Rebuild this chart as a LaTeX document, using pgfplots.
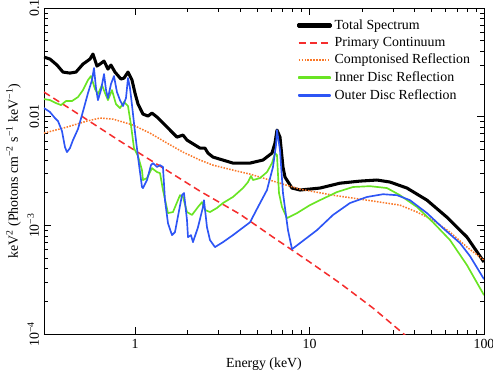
\documentclass[border=0pt]{standalone}
\usepackage{fontspec}
\setmainfont{Liberation Serif}
\usepackage{pgfplots}
\pgfplotsset{compat=1.18}
\usetikzlibrary{calc}

\definecolor{primred}{RGB}{245,45,45}
\definecolor{compor}{RGB}{250,120,40}
\definecolor{innergreen}{RGB}{105,228,35}
\definecolor{outerblue}{RGB}{45,85,245}

\begin{document}
\begin{tikzpicture}
\begin{loglogaxis}[
    name=ax,
    scale only axis,
    width=317pt, height=235pt,
    xmin=0.3, xmax=100,
    ymin=1e-4, ymax=0.1,
    xtick={1,10,100}, xticklabels={1,10,100},
    ytick={1e-4,1e-3,0.01,0.1},
    yticklabels={10\textsuperscript{−4},10\textsuperscript{−3},0.01,0.1},
    yticklabel style={rotate=90, anchor=south},
    xlabel={Energy (keV)},
    ylabel={keV\textsuperscript{2} (Photons cm\textsuperscript{−2} s\textsuperscript{−1} keV\textsuperscript{−1})},
    ylabel style={yshift=-2pt},
    major tick length=5pt, minor tick length=3pt,
    tick style={black, thin},
    legend style={at={(0.985,0.983)}, anchor=north east, draw=none, fill=none,
        nodes={inner sep=2.1pt}},
    legend cell align=left,
    legend image code/.code={\draw[#1] (0cm,0cm) -- (0.8cm,0cm);},
    every axis plot/.append style={line join=round},
]

% total spectrum
\addplot[black, line width=2.2pt,
    legend image code/.code={\fill[black] (0cm,-0.75pt) rectangle (0.8cm,0.75pt);}] coordinates {
(0.300,0.03542) (0.3247,0.03395) (0.3561,0.02990) (0.3855,0.02577) (0.4227,0.02523)
(0.4575,0.02577) (0.5020,0.03053) (0.5506,0.03395) (0.5728,0.03774) (0.6039,0.02927)
(0.6283,0.03053) (0.6627,0.03254) (0.6982,0.02746) (0.7265,0.02990) (0.7658,0.02577)
(0.8290,0.02223) (0.8626,0.02270) (0.9094,0.02577) (0.9587,0.02176) (0.9974,0.01652)
(1.038,0.01309) (1.108,0.01059) (1.184,0.01015) (1.248,0.01081) (1.334,0.00994)
(1.522,0.00804) (1.737,0.00650) (1.880,0.00679) (1.982,0.00610) (2.353,0.00515)
(2.513,0.00515) (2.615,0.00463) (2.793,0.00426) (3.638,0.00375) (4.554,0.00375)
(5.405,0.00400) (6.086,0.00463) (6.333,0.00573) (6.503,0.00755) (6.766,0.00650)
(7.039,0.00345) (7.227,0.00279) (7.930,0.00221) (8.810,0.00212) (11.47,0.00221)
(14.94,0.00245) (19.45,0.00256) (24.35,0.00262) (28.91,0.00251) (36.18,0.00221)
(47.12,0.00171) (61.38,0.00119) (79.91,0.000782) (100,0.000461)
};
\addlegendentry{Total Spectrum}

% primary continuum
\addplot[primred, line width=1.1pt, dash pattern=on 5pt off 3pt] coordinates {
(0.300,0.01687) (0.5020,0.00994) (0.8180,0.00597) (1.388,0.00352) (2.353,0.00207)
(3.990,0.00127) (6.168,0.000782) (9.663,0.000480) (14.94,0.000295) (23.10,0.000174)
(34.32,0.000102) (40.2,0.000081)
};
\addlegendentry{Primary Continuum}

% comptonised reflection
\addplot[compor, line width=1.1pt, densely dotted] coordinates {
(0.300,0.00708) (0.4063,0.00804) (0.5292,0.00913) (0.6283,0.00973) (0.7459,0.00952)
(0.9714,0.00839) (1.216,0.00708) (1.522,0.00573) (1.880,0.00473) (2.353,0.00400)
(2.793,0.00359) (3.638,0.00323) (4.554,0.00297) (6.766,0.00245) (8.810,0.00216)
(13.62,0.00190) (21.34,0.00171) (32.98,0.00154) (41.29,0.00133) (51.02,0.00112)
(63.86,0.000869) (79.91,0.000633) (100,0.000480)
};
\addlegendentry{Comptonised Reflection}

% inner disc reflection
\addplot[innergreen, line width=1.2pt,
    legend image code/.code={\fill[innergreen] (0cm,-0.55pt) rectangle (0.8cm,0.55pt);}] coordinates {
(0.300,0.01455) (0.3247,0.01424) (0.3514,0.01337) (0.3754,0.01281) (0.4010,0.01395)
(0.4341,0.01395) (0.4699,0.01518) (0.5020,0.01760) (0.5363,0.02176) (0.5579,0.02368)
(0.5882,0.01798) (0.6119,0.01617) (0.6451,0.01957) (0.6714,0.01652) (0.6982,0.01424)
(0.7362,0.01760) (0.7759,0.01309) (0.8180,0.01202) (0.8626,0.01366) (0.9094,0.01255)
(0.9461,0.00839) (0.9842,0.00515) (1.038,0.00435) (1.094,0.00323) (1.108,0.00262)
(1.169,0.00273) (1.248,0.00337) (1.334,0.00310) (1.388,0.00303) (1.443,0.00212)
(1.542,0.00130) (1.647,0.00133) (1.807,0.00190) (1.880,0.00183) (1.982,0.00133)
(2.117,0.00125) (2.292,0.00148) (2.416,0.00164) (2.513,0.00139) (2.685,0.00133)
(2.944,0.00145) (3.187,0.00161) (3.638,0.00183) (4.151,0.00221) (4.436,0.00251)
(4.613,0.00285) (4.737,0.00262) (5.195,0.00273) (5.698,0.00310) (6.086,0.00375)
(6.333,0.00463) (6.503,0.00444) (6.677,0.00199) (6.947,0.00148) (7.419,0.00117)
(8.469,0.00130) (10.05,0.00154) (11.47,0.00171) (14.36,0.00203) (17.74,0.00226)
(22.20,0.00230) (27.79,0.00221) (32.98,0.00190) (41.29,0.00148) (51.02,0.00107)
(63.86,0.000734) (79.91,0.000432) (100,0.000229)
};
\addlegendentry{Inner Disc Reflection}

% outer disc reflection
\addplot[outerblue, line width=1.2pt,
    legend image code/.code={\fill[outerblue] (0cm,-0.55pt) rectangle (0.8cm,0.55pt);}] coordinates {
(0.300,0.01202) (0.3247,0.01105) (0.3467,0.00973) (0.3609,0.00913) (0.3804,0.00739)
(0.3958,0.00526) (0.4063,0.00473) (0.4227,0.00515) (0.4398,0.00610) (0.4699,0.00771)
(0.4953,0.01037) (0.5155,0.01309) (0.5363,0.01652) (0.5653,0.02176) (0.5805,0.02805)
(0.5960,0.01836) (0.6119,0.01424) (0.6366,0.01760) (0.6627,0.02471) (0.6805,0.01760)
(0.6982,0.01486) (0.7265,0.01999) (0.7558,0.02368) (0.7862,0.01687) (0.8180,0.01424)
(0.8511,0.01255) (0.8857,0.01486) (0.9094,0.02270) (0.9336,0.01836) (0.9587,0.01281)
(0.9974,0.00723) (1.038,0.00426) (1.094,0.00226) (1.108,0.00221) (1.169,0.00262)
(1.232,0.00359) (1.265,0.00375) (1.334,0.00345) (1.388,0.00359) (1.443,0.00345)
(1.482,0.00171) (1.542,0.00105) (1.626,0.000816) (1.691,0.000869) (1.855,0.00190)
(1.905,0.00199) (1.982,0.00112) (2.008,0.000782) (2.089,0.000816) (2.145,0.000703)
(2.292,0.000966) (2.448,0.00148) (2.480,0.00171) (2.580,0.000966) (2.685,0.000734)
(2.868,0.000633) (3.187,0.000703) (3.638,0.000816) (4.554,0.00107) (5.060,0.00148)
(5.698,0.00212) (6.168,0.00345) (6.418,0.00549) (6.503,0.00755) (6.766,0.00494)
(7.039,0.00199) (7.518,0.000907) (7.930,0.000606) (8.810,0.000689) (11.03,0.000907)
(13.62,0.00125) (17.05,0.00161) (21.34,0.00183) (26.36,0.00194) (31.71,0.00190)
(37.64,0.00171) (47.12,0.00130) (58.22,0.000946) (72.87,0.000689) (83.14,0.000523)
(100,0.000321)
};
\addlegendentry{Outer Disc Reflection}

\end{loglogaxis}
\pgfresetboundingbox
\path[use as bounding box] ($(ax.south west)+(-31.7pt,-26.6pt)$) rectangle ($(ax.north east)+(6.5pt,5.8pt)$);
\end{tikzpicture}
\end{document}
